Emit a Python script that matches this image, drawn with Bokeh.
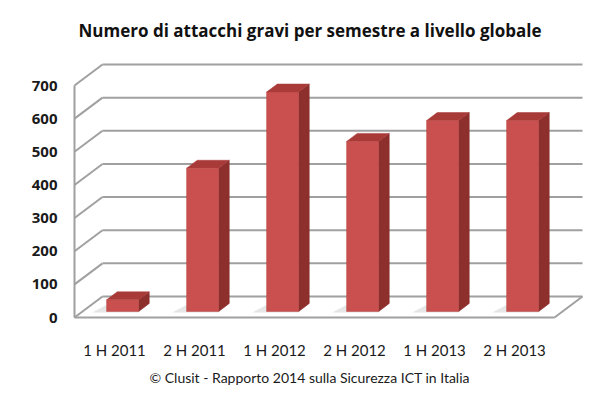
from bokeh.plotting import figure
from bokeh.models import Range1d, FixedTicker, Title
from bokeh.embed import file_html
from bokeh.resources import INLINE

# ---- data ----
categories = ["1 H 2011", "2 H 2011", "1 H 2012", "2 H 2012", "1 H 2013", "2 H 2013"]
attacks = [35, 432, 662, 513, 576, 576]
y_ticks = [0, 100, 200, 300, 400, 500, 600, 700]

title_text = "Numero di attacchi gravi per semestre a livello globale"
source_text = "\u00a9 Clusit - Rapporto 2014 sulla Sicurezza ICT in Italia"

# ---- layout (canvas pixels) ----
W, H = 600, 395
FL, FR, FT, FB = 70, 590, 46, 330          # frame edges
OX, OY = 74, 317                            # front-floor left corner
PX_X = 80.0                                 # px per category
PX_Y = 232.0 / 700.0                        # px per unit
DX = 28.0 / PX_X                            # depth offset (x units)
DY = 21.0 / PX_Y                            # depth offset (y units)
F_FRONT, F_BACK = 0.29, 0.67                # bar position inside depth
HALF = 0.2                                  # half bar width

x_range = Range1d((FL - OX) / PX_X, (FR - OX) / PX_X)
y_range = Range1d((OY - FB) / PX_Y, (OY - FT) / PX_Y)

p = figure(width=W, height=H, x_range=x_range, y_range=y_range,
           output_backend="svg", toolbar_location=None,
           min_border_left=FL, min_border_right=W - FR,
           min_border_top=FT, min_border_bottom=H - FB)
p.background_fill_color = "white"
p.border_fill_color = "white"
p.outline_line_color = None
p.xgrid.visible = False
p.ygrid.visible = False

n = len(categories)
grid_col = "#a0a0a0"

# back wall grid lines
p.segment(x0=[DX] * len(y_ticks), y0=[v + DY for v in y_ticks],
          x1=[n + DX] * len(y_ticks), y1=[v + DY for v in y_ticks],
          line_color=grid_col, line_width=2)
# side wall diagonals
p.segment(x0=[0] * len(y_ticks), y0=y_ticks,
          x1=[DX] * len(y_ticks), y1=[v + DY for v in y_ticks],
          line_color=grid_col, line_width=2)
# front left edge and floor
p.segment(x0=[0, 0, n], y0=[0, 0, 0], x1=[0, n, n + DX], y1=[y_ticks[-1], 0, DY],
          line_color=grid_col, line_width=2)

# bar shadows on floor
sh_xs, sh_ys = [], []
for i, v in enumerate(attacks):
    c = i + 0.5
    sh_xs.append([c - HALF - 0.18 + F_FRONT * DX, c + HALF + F_FRONT * DX,
                  c + HALF + F_BACK * DX, c - HALF - 0.1 + F_BACK * DX])
    sh_ys.append([F_FRONT * DY - 3, F_FRONT * DY - 3, F_BACK * DY, F_BACK * DY])
p.patches(sh_xs, sh_ys, fill_color="#9a9a9a", fill_alpha=0.25, line_color=None)

# bars
front_xs, front_ys, top_xs, top_ys, side_xs, side_ys = [], [], [], [], [], []
for i, v in enumerate(attacks):
    c = i + 0.5
    x0f, x1f = c - HALF + F_FRONT * DX, c + HALF + F_FRONT * DX
    x0b, x1b = c - HALF + F_BACK * DX, c + HALF + F_BACK * DX
    y0f, y1f = F_FRONT * DY, v + F_FRONT * DY
    y0b, y1b = F_BACK * DY, v + F_BACK * DY
    front_xs.append([x0f, x1f, x1f, x0f]); front_ys.append([y0f, y0f, y1f, y1f])
    top_xs.append([x0f, x1f, x1b, x0b]); top_ys.append([y1f, y1f, y1b, y1b])
    side_xs.append([x1f, x1b, x1b, x1f]); side_ys.append([y0f, y0b, y1b, y1f])

p.patches(side_xs, side_ys, fill_color="#8c2f2d", line_color="#8c2f2d", line_width=0.5)
p.patches(top_xs, top_ys, fill_color="#a83a38", line_color="#a83a38", line_width=0.5)
p.patches(front_xs, front_ys, fill_color="#c9504e", line_color="#b54543", line_width=0.5)

# axes
p.yaxis.ticker = FixedTicker(ticks=y_ticks)
p.yaxis.axis_line_color = None
p.yaxis.major_tick_line_color = None
p.yaxis.minor_tick_line_color = None
p.yaxis.major_tick_out = 0
p.yaxis.minor_tick_out = 0
p.yaxis.major_label_standoff = 13
p.yaxis.major_label_text_font = "Open Sans"
p.yaxis.major_label_text_font_style = "bold"
p.yaxis.major_label_text_font_size = "15px"
p.yaxis.major_label_text_color = "#1a1a1a"

tick_pos = [i + 0.5 for i in range(n)]
p.xaxis.ticker = FixedTicker(ticks=tick_pos)
p.xaxis.major_label_overrides = {t: c for t, c in zip(tick_pos, categories)}
p.xaxis.axis_line_color = None
p.xaxis.major_tick_line_color = None
p.xaxis.minor_tick_line_color = None
p.xaxis.major_tick_out = 0
p.xaxis.minor_tick_out = 0
p.xaxis.major_label_standoff = 10
p.xaxis.major_label_text_font = "Lato"
p.xaxis.major_label_text_font_size = "15px"
p.xaxis.major_label_text_color = "#1a1a1a"

# titles
p.title.text = title_text
p.title.align = "left"
p.title.offset = 8
p.title.text_font = "Open Sans"
p.title.text_font_size = "17px"
p.title.text_font_style = "bold"
p.title.text_color = "#111111"

p.add_layout(Title(text=source_text, align="left", offset=79,
                   text_font="Lato", text_font_size="14px",
                   text_font_style="normal", text_color="#1a1a1a"), "below")

open("out.html", "w").write(file_html(p, INLINE))
